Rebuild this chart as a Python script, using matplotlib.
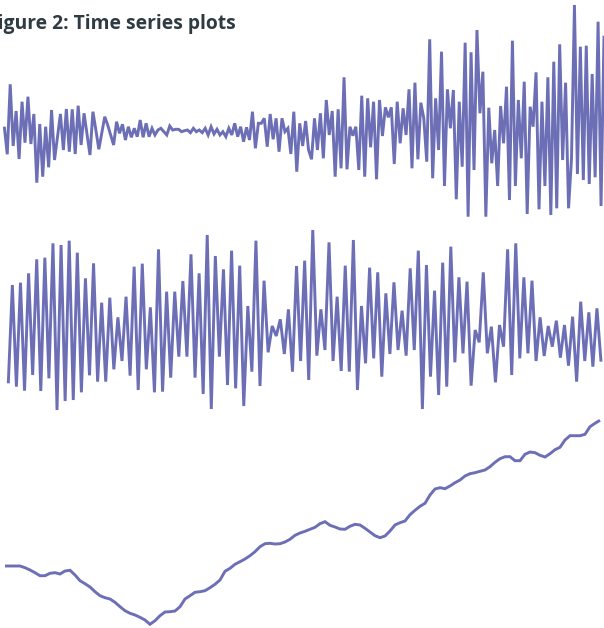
import matplotlib
matplotlib.use("Agg")
import matplotlib.pyplot as plt
import numpy as np

# ---- data ----
series_a = [3.3, -24.3, 45.7, -16, 19, -29, 28.3, -12.7, 33.3, -14, 16, -52.7, 6, -46.7, 3.3,
            -37.3, 20, -30, -7, 16, -20, 21, -21.7, 20.7, -24, 24.3, -15, 16.7, -4, -25, 18.3, 0,
            -19.3, -3, 13.3, 5, -5, -15, 8.3, -3.3, 5.7, -10, 3.3, -7.3, 1.7, -6.7, 10, -7.3,
            6.7, -6.7, 1.7, -5, 0, 1.7, -1.7, -5, 4, 0, 0.7, 0.7, -1.7, -0.7, 0, -2.7, 1.7, -1.7,
            0, -2.7, 1.7, -5, 3.3, -4, 0.7, -5, -1.7, -6.7, 1.7, -5, 6.7, -6.7, 3.3, -11.7, 2.7,
            -10, 18.3, -18.3, 6.7, 6.7, 11.7, -16.7, 16, -9.3, 11.7, -21.7, 11.7, -1.7, 1.7, -24,
            18.3, -41.7, 6.7, -16, 9, -20,
            -29.3, 11.7, -20, 16.7, -28.3, 30, -5, 19, -46.7, 20.7, -38.3, 52.7, -39.3, 3.3, -5.7,
            3.3, -40, 34.3, -46.7, 31.7, -17.3, 28.3, -49.3, 30, -6, 22.7, 12.7, 22.7, -34, 28.3,
            -13.3, 21.7, -5, 40.7, -38.3, 47.3, -29.3, 27.3, 11.7, -31.7, 90.7, -48.3, 31.7, -20,
            78.3, -56, 40.7,
            1.7, 40, -69.3, 28.3, -36.7, 87.3, -86.7, 77.7, -40, 100, 16.7, 58.3, -86.7, 22.3,
            -33.3, 0, -56, 24, -13.3, 43.3, -70, 89.3, -56, 30, -28.3, 48.3, -84, 23.3, 3.3, 57.7,
            -79.3, 28.3, -56, 52.7, -85, 68.3, -78.3, 85.7, -30, 47.3, -78.3, -28.3, 125, -44, 83.3,
            -50, 84.3, -54, 56, -47.3, 108.3, -76, 94.3]

series_b = [10.0, 39.5, 9.0, 40.2, 7.8, 43.0, 12.5, 47.2, 7.7, 47.7, 11.5, 52.0, 2.0, 51.5, 4.7,
            52.8, 5.0, 49.2, 7.3, 41.5, 12.4, 46.0, 10.5, 34.2, 10.5, 35.7, 14.2, 29.8, 16.7, 36.0,
            12.3, 45.0, 8.0, 45.9, 14.2, 32.8, 7.3, 50.2, 7.5, 37.5, 11.7, 37.5, 18.0, 40.7, 18.0,
            48.7, 11.7, 43.0, 6.8, 54.5, 2.3, 48.2, 18.0, 44.2, 9.5, 49.8, 8.5, 45.3, 3.2, 33.2,
            13.5, 52.8, 9.2, 40.8, 19.3, 27.2, 24.2, 29.2, 18.8, 32.2, 13.5, 45.2, 16.7, 46.8,
            11.0, 56.0, 18.3, 32.2, 20.0, 52.3, 16.7, 36.0, 13.7, 45.3, 13.5, 53.0, 8.0, 33.2,
            16.0, 44.7, 17.5, 43.3, 12.0, 37.0, 18.8, 40.3, 20.0, 31.8, 18.3, 44.5, 20.0, 49.8,
            2.3, 45.5, 12.0, 37.8, 6.5, 46.2, 9.0, 51.0, 16.3, 41.8, 19.0, 40.5, 9.3, 26.0, 22.3,
            43.3, 19.0, 27.0, 10.3, 27.5, 21.0, 50.2, 12.5, 52.0, 17.5, 41.8, 19.0, 40.8, 16.7,
            29.8, 18.2, 27.2, 21.0, 28.8, 17.7, 27.5, 15.3, 30.0, 10.5, 34.5, 16.7, 31.3, 15.0,
            32.5, 16.5]

series_c = [62.0, 62.0, 62.0, 62.0, 60.3, 58.0, 55.3, 52.3, 52.3, 54.7, 55.3, 54.0, 57.0, 57.7,
            53.0, 47.3, 44.3, 41.0, 36.3, 32.3, 30.3, 29.0, 25.7, 21.3, 17.3, 14.7, 13.0, 10.7,
            8.0, 3.7, 7.3, 12.3, 16.0, 16.3, 17.0, 21.3, 29.0, 32.3, 35.7, 36.3, 37.3, 40.3, 43.7,
            48.0, 56.7, 59.7, 63.7, 66.3, 69.0, 72.3, 76.3, 81.3, 84.3, 84.7, 84.0, 84.3, 86.0,
            88.7, 92.7, 95.0,
            96.7, 98.7, 100.7, 104.3, 106.3, 102.7, 101.0, 99.0, 98.7, 101.7, 103.7, 103.0, 99.7,
            96.0, 92.3, 90.3, 92.0, 97.0, 103.0, 105.3, 107.0, 113.3, 117.7, 121.7, 124.7, 133.0,
            139.0, 140.3, 139.3, 142.0, 145.3, 148.0, 152.0, 154.3, 155.3, 156.7, 158.0, 161.3,
            165.7, 169.3, 171.3, 171.3, 167.3, 167.3, 173.7, 176.0, 175.3, 172.7, 171.0, 174.3,
            178.3, 180.7, 188.0, 192.3, 192.3, 192.3, 193.7, 201.3, 204.7, 207.7]

title_text = "Figure 2: Time series plots"

# ---- layout ----
W, H = 604, 628
LINE = "#6d6fb6"
fig = plt.figure(figsize=(W / 100, H / 100), dpi=100)
fig.patch.set_facecolor("white")


def panel(values, top_px, bot_px, v_top, v_bot, x_first_px, x_last_px):
    ax = fig.add_axes([0, 1 - bot_px / H, 1, (bot_px - top_px) / H])
    n = len(values)
    idx = np.arange(n)
    step = (x_last_px - x_first_px) / (n - 1)
    ax.set_xlim(-x_first_px / step, (W - x_first_px) / step)
    ax.set_ylim(v_bot, v_top)
    ax.plot(idx, values, color=LINE, lw=2.1, solid_joinstyle="miter",
            solid_capstyle="butt", clip_on=False)
    ax.axis("off")
    ax.patch.set_alpha(0)
    return ax


panel(series_a, 0, 220, 130, -90, 4.3, 604)
panel(series_b, 225, 415, 57.5, 0.5, 8.3, 601)
panel(series_c, 415, 628, 213, 0, 5, 600)

fig.text(236 / W, 1 - 29 / H, title_text, ha="right", va="baseline",
         fontsize=13.85, fontweight="bold", family="Open Sans", color="#2e3b42")

fig.savefig("out.png", dpi=100, facecolor="white")
